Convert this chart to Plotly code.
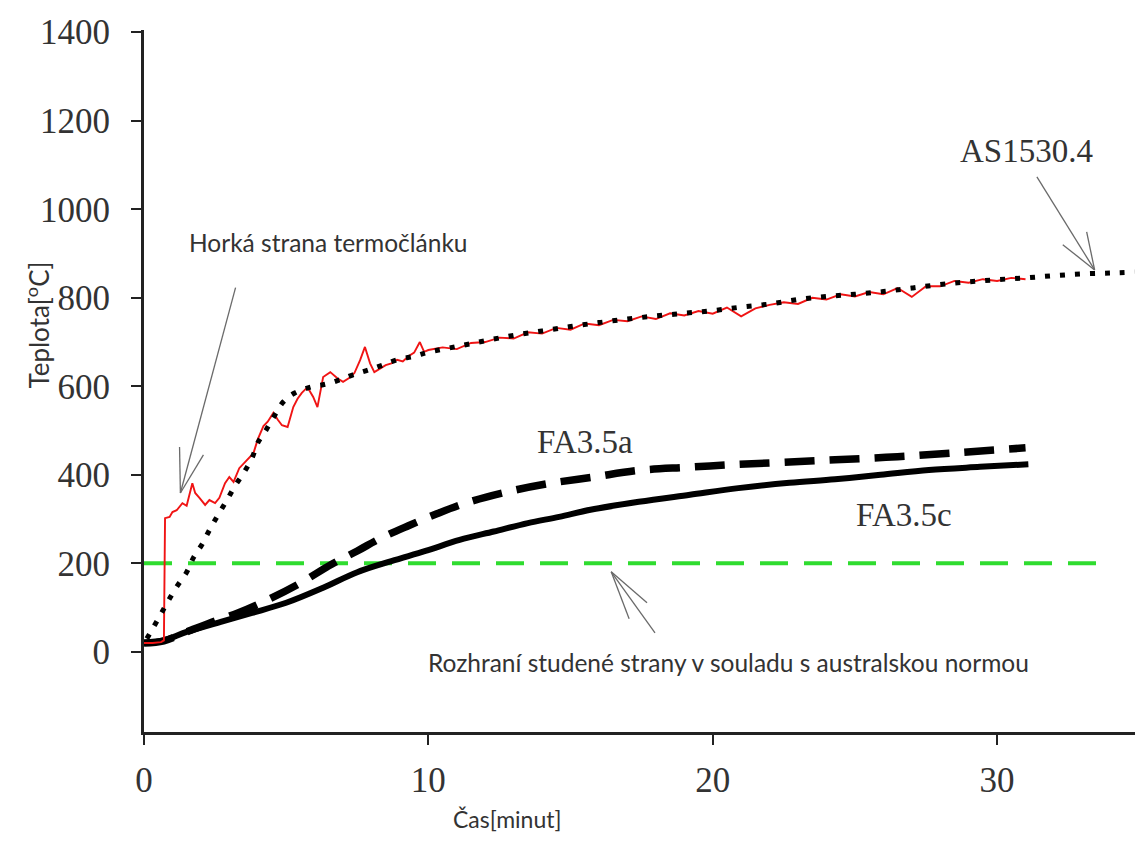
import plotly.graph_objects as go

# ---------------- data ----------------
# AS1530.4 standard fire curve (dotted)
std_time = [0.1, 0.3, 0.6, 0.85, 1.15, 1.5, 1.75, 2.05, 2.3, 2.6, 2.9, 3.2, 3.5, 3.8, 4.0,
            4.3, 4.6, 4.9, 5.3, 5.9, 6.4, 6.9, 7.35, 7.9, 8.4, 8.9, 9.5, 10.0, 11.0, 12.0,
            13.0, 14.0, 15.0, 16.0, 17.0, 18.0, 19.0, 20.0, 21.0, 22.0, 23.0, 24.0, 25.0,
            26.0, 27.0, 28.0, 29.0, 30.0, 31.0, 32.0, 33.0, 34.0, 34.85]
std_temp = [30, 52, 86, 115, 147, 180, 214, 244, 275, 309, 341, 375, 404, 438, 472,
            502, 535, 565, 585, 599, 605, 615, 626, 637, 648, 660, 668, 677, 690, 703,
            715, 725, 735, 744, 752, 759, 765, 771, 779, 786, 796, 803, 808,
            814, 822, 830, 836, 841, 845, 850, 854, 856, 858]

# Hot side thermocouple (red)
hot_time = [0, 0.3, 0.6, 0.7, 0.74, 0.9, 1.0, 1.15, 1.35, 1.5, 1.7, 1.8, 1.95, 2.15, 2.3,
            2.5, 2.65, 2.85, 3.0, 3.15, 3.35, 3.6, 3.85, 4.0, 4.2, 4.35, 4.55, 4.7, 4.85,
            5.05, 5.25, 5.4, 5.55, 5.75, 5.95, 6.1, 6.3, 6.55, 6.8, 7.0, 7.2, 7.4, 7.6,
            7.77, 7.95, 8.1, 8.3, 8.5, 8.7, 8.9, 9.1, 9.3, 9.5, 9.7, 9.85, 10.0, 10.5,
            11.0, 11.5, 12.0, 12.5, 13.0, 13.5, 14.0, 14.5, 15.0, 15.5, 16.0, 16.5, 17.0,
            17.5, 18.0, 18.5, 19.0, 19.5, 20.0, 20.5, 21.0, 21.5, 22.0, 22.5, 23.0, 23.5,
            24.0, 24.5, 25.0, 25.5, 26.0, 26.5, 27.0, 27.5, 28.0, 28.5, 29.0, 29.5, 30.0,
            30.5, 31.0]
hot_temp = [20, 20, 22, 26, 302, 305, 316, 320, 336, 330, 381, 359, 348, 332, 343,
            336, 348, 381, 395, 384, 415, 433, 449, 480, 510, 520, 540, 525, 512,
            508, 553, 572, 585, 598, 576, 553, 621, 632, 618, 610, 618, 630, 659,
            689, 652, 632, 640, 648, 652, 660, 656, 668, 676, 700, 678, 682, 688,
            684, 698, 700, 710, 708, 722, 719, 732, 728, 742, 738, 750, 747,
            758, 752, 765, 760, 770, 764, 778, 758, 776, 784, 790, 786, 800,
            796, 808, 803, 813, 808, 822, 802, 826, 826, 838, 834, 842, 838,
            845, 842]

# FA3.5a (dashed black)
fa_a_time = [0, 0.7, 1.5, 2.5, 3.3, 4.1, 5.4, 6.6, 7.5, 8.3, 9.3, 10.3, 11.4, 12.8,
             14.2, 15.8, 17.4, 19.1, 20.7, 22.4, 24.3, 26.5, 28.8, 31.0]
fa_a_temp = [20, 25, 45, 70, 88, 110, 152, 198, 228, 256, 285, 312, 338, 362,
             380, 395, 410, 417, 423, 428, 434, 441, 451, 461]

# FA3.5c (solid black)
fa_c_time = [0, 0.7, 1.5, 2.7, 3.8, 5.0, 6.3, 7.5, 8.7, 9.9, 11.1, 12.3, 13.5, 14.6,
             15.7, 17.4, 19.2, 20.9, 22.7, 24.3, 25.9, 27.6, 29.4, 31.1]
fa_c_temp = [20, 26, 45, 68, 88, 111, 145, 180, 205, 228, 253, 272, 291, 305,
             321, 339, 355, 370, 382, 390, 400, 411, 418, 424]

# cold side limit (green dashed)
limit_time = [0, 33.5]
limit_temp = [200, 200]

x_ticks = [0, 10, 20, 30]
y_ticks = [0, 200, 400, 600, 800, 1000, 1200, 1400]

# ---------------- layout constants ----------------
W, H = 1135, 850
ML, MR, MT, MB = 144, 0, 30, 118
PW, PH = W - ML - MR, H - MT - MB
X_RANGE = [0, 34.85]
Y_RANGE = [-181, 1405]


def px_x(p):
    return (p - ML) / PW


def px_y(p):
    return (H - MB - p) / PH


SERIF = "Liberation Serif, Times New Roman, serif"
SANS = "Lato, Open Sans, sans-serif"
TXT = "#333333"
ARROW = "#6a6a6a"

fig = go.Figure()

fig.add_trace(go.Scatter(x=limit_time, y=limit_temp, mode="lines",
                         line=dict(color="#2fdc2f", width=4, dash="28px,16px"),
                         hoverinfo="skip", showlegend=False))
fig.add_trace(go.Scatter(x=fa_c_time, y=fa_c_temp, mode="lines",
                         line=dict(color="#000000", width=6, shape="spline"),
                         showlegend=False))
fig.add_trace(go.Scatter(x=fa_a_time, y=fa_a_temp, mode="lines",
                         line=dict(color="#000000", width=7.5, shape="spline", dash="30px,15px"),
                         showlegend=False))
fig.add_trace(go.Scatter(x=hot_time, y=hot_temp, mode="lines",
                         line=dict(color="#f01414", width=1.9),
                         showlegend=False))
fig.add_trace(go.Scatter(x=std_time, y=std_temp, mode="lines",
                         line=dict(color="#000000", width=5, shape="spline", dash="5px,10px"),
                         showlegend=False))

# arrows drawn as thin lines (data coordinates)
arrows = [
    # hot side
    ((3.22, 823), (1.28, 359)), ((1.25, 463), (1.28, 359)), ((2.09, 445), (1.28, 359)),
    # AS1530.4
    ((31.40, 1073), (33.43, 863)), ((32.31, 920), (33.43, 863)), ((33.15, 949), (33.43, 863)),
    # cold side
    ((17.97, 43), (16.43, 181)), ((17.69, 111), (16.43, 181)), ((17.06, 75), (16.43, 181)),
]
shapes = []
for (x0, y0), (x1, y1) in arrows:
    shapes.append(dict(type="line", xref="x", yref="y", x0=x0, y0=y0, x1=x1, y1=y1,
                       line=dict(color=ARROW, width=1.3), layer="above"))

annotations = [
    dict(x=6.48, y=924, xref="x", yref="y", text="Horká strana termočlánku",
         showarrow=False, font=dict(family=SANS, size=24.5, color=TXT)),
    dict(x=31.04, y=1132, xref="x", yref="y", text="AS1530.4",
         showarrow=False, font=dict(family=SERIF, size=33, color=TXT)),
    dict(x=15.51, y=475, xref="x", yref="y", text="FA3.5a",
         showarrow=False, font=dict(family=SERIF, size=33, color=TXT)),
    dict(x=26.72, y=310, xref="x", yref="y", text="FA3.5c",
         showarrow=False, font=dict(family=SERIF, size=33, color=TXT)),
    dict(x=20.54, y=-25, xref="x", yref="y",
         text="Rozhraní studené strany v souladu s australskou normou",
         showarrow=False, font=dict(family=SANS, size=24.5, color=TXT)),
    dict(x=px_x(507), y=px_y(835), xref="paper", yref="paper", text="Čas[minut]",
         showarrow=False, font=dict(family=SANS, size=23, color=TXT)),
    dict(x=px_x(18), y=px_y(325), xref="paper", yref="paper", text="Teplota[<sup>o</sup>C]",
         textangle=-90, showarrow=False, font=dict(family=SANS, size=26, color=TXT)),
]

axis_common = dict(showline=True, linecolor="#222222", linewidth=3, ticks="outside",
                   ticklen=10, tickwidth=2, tickcolor="#222222", showgrid=False,
                   zeroline=False, tickfont=dict(family=SERIF, size=35, color=TXT))

fig.update_layout(
    width=W, height=H, autosize=False,
    margin=dict(l=ML, r=MR, t=MT, b=MB, pad=0),
    paper_bgcolor="white", plot_bgcolor="white",
    xaxis=dict(range=X_RANGE, tickvals=x_ticks, ticklabelstandoff=5, **axis_common),
    yaxis=dict(range=Y_RANGE, tickvals=y_ticks, ticklabelstandoff=14, **axis_common),
    shapes=shapes, annotations=annotations,
)

fig.write_html("out.html")
